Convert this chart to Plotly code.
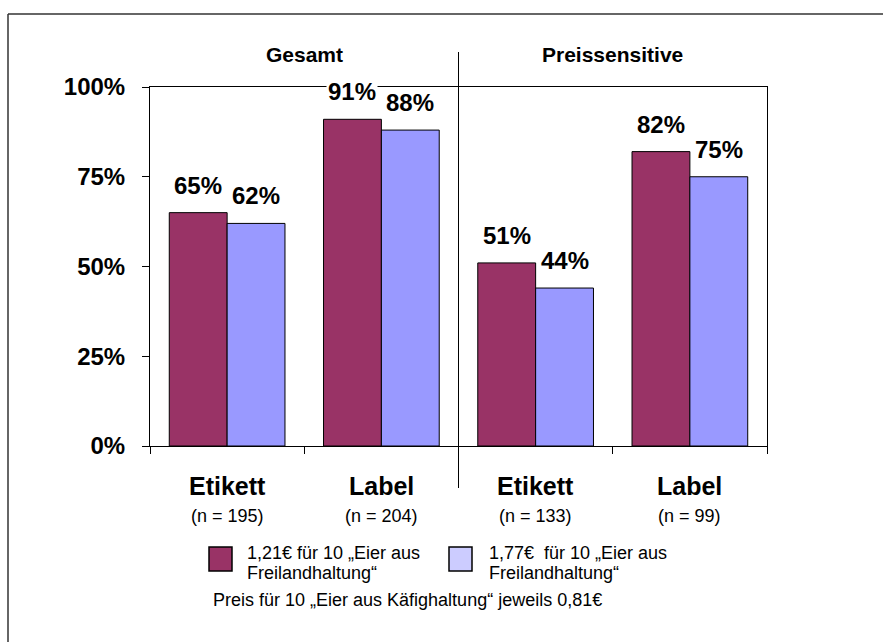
import plotly.graph_objects as go

# ---- data -------------------------------------------------------------
groups = ["Gesamt", "Preissensitive"]
categories = ["Etikett", "Label", "Etikett", "Label"]
sample_sizes = ["(n = 195)", "(n = 204)", "(n = 133)", "(n = 99)"]
price_121 = [0.65, 0.91, 0.51, 0.82]
price_177 = [0.62, 0.88, 0.44, 0.75]
series_names = [
    ["1,21€ für 10 „Eier aus", "Freilandhaltung“"],
    ["1,77€\u00a0 für 10 „Eier aus", "Freilandhaltung“"],
]
footnote = "Preis für 10 „Eier aus Käfighaltung“ jeweils 0,81€"
y_ticks = [0, 0.25, 0.5, 0.75, 1.0]
y_tick_labels = ["0%", "25%", "50%", "75%", "100%"]

# ---- styling ------------------------------------------------------------
W, H = 883, 642
ML, MR, MT, MB = 150, 116, 87, 196
PW, PH = W - ML - MR, H - MT - MB
FONT = "Arial, Liberation Sans, sans-serif"
MAROON, BLUE, BLUE_SWATCH = "#993366", "#9999FF", "#CCCCFF"
BARGAP = 0.25


def px(xp):
    """pixel column -> paper x"""
    return (xp - ML) / PW


def py(yp):
    """pixel row -> paper y"""
    return (MT + PH - yp) / PH


x = list(range(len(categories)))

fig = go.Figure()
for vals, color in ((price_121, MAROON), (price_177, BLUE)):
    fig.add_trace(go.Bar(
        x=x, y=vals,
        marker=dict(color=color, line=dict(color="black", width=1)),
        showlegend=False, hoverinfo="skip",
    ))

annotations = []
shapes = []

# value labels above each bar
half = (1 - BARGAP) / 4
for vals, off in ((price_121, -half), (price_177, half)):
    for xi, v in zip(x, vals):
        annotations.append(dict(
            x=xi + off, y=v, xref="x", yref="y",
            text=f"{round(v * 100)}%", showarrow=False,
            yanchor="bottom", xanchor="center", yshift=12,
            bgcolor="white", borderpad=1,
            font=dict(family=FONT, size=24, color="black", weight="bold"),
        ))

# group headings
n_per_group = len(categories) // len(groups)
for gi, g in enumerate(groups):
    annotations.append(dict(
        x=gi * n_per_group + (n_per_group - 1) / 2, y=1, xref="x", yref="paper",
        text=g, showarrow=False, yanchor="bottom", yshift=19,
        font=dict(family=FONT, size=21, color="black", weight="bold"),
    ))

# category labels with sample sizes
for xi, (c, n) in enumerate(zip(categories, sample_sizes)):
    annotations.append(dict(
        x=xi, y=0, xref="x", yref="paper", text=c, showarrow=False,
        yanchor="top", yshift=-24,
        font=dict(family=FONT, size=25, color="black", weight="bold"),
    ))
    annotations.append(dict(
        x=xi, y=0, xref="x", yref="paper", text=n, showarrow=False,
        yanchor="top", yshift=-58,
        font=dict(family=FONT, size=18, color="black"),
    ))

# divider between the two groups
divider_x = (len(categories) - 1) / 2
shapes.append(dict(
    type="line", xref="x", yref="paper", x0=divider_x, x1=divider_x,
    y0=py(488), y1=py(52), line=dict(color="black", width=1),
))

# legend: swatches and two-line labels
legend_left = [209, 449]
text_left = [245, 487]
for sx, tx, color, lines in zip(legend_left, text_left,
                                [MAROON, BLUE_SWATCH], series_names):
    shapes.append(dict(
        type="rect", xref="paper", yref="paper",
        x0=px(sx), x1=px(sx + 23), y0=py(571), y1=py(547),
        fillcolor=color, line=dict(color="black", width=1.5),
    ))
    for li, line_text in enumerate(lines):
        annotations.append(dict(
            x=px(tx), y=py(541 + li * 20), xref="paper", yref="paper",
            text=line_text, showarrow=False, xanchor="left", yanchor="top",
            font=dict(family=FONT, size=18, color="black"),
        ))

annotations.append(dict(
    x=px(211), y=py(588), xref="paper", yref="paper", text=footnote,
    showarrow=False, xanchor="left", yanchor="top",
    font=dict(family=FONT, size=18, color="black"),
))

# outer frame (left and top edges)
frame = dict(color="#333333", width=1.5)
shapes.append(dict(type="line", xref="paper", yref="paper",
                   x0=px(8), x1=px(8), y0=py(H), y1=py(14), line=frame))
shapes.append(dict(type="line", xref="paper", yref="paper",
                   x0=px(8), x1=px(W), y0=py(14), y1=py(14), line=frame))

fig.update_layout(
    width=W, height=H,
    margin=dict(l=ML, r=MR, t=MT, b=MB, pad=0),
    paper_bgcolor="white", plot_bgcolor="white",
    barmode="group", bargap=BARGAP, bargroupgap=0,
    font=dict(family=FONT, color="black"),
    annotations=annotations, shapes=shapes,
    xaxis=dict(
        range=[-0.5, len(categories) - 0.5],
        tickvals=[i - 0.5 for i in range(len(categories) + 1)],
        ticktext=[""] * (len(categories) + 1),
        ticks="outside", ticklen=7, tickcolor="black", tickwidth=1,
        showline=True, linecolor="black", linewidth=1, mirror=True,
        showgrid=False, zeroline=False, fixedrange=True,
    ),
    yaxis=dict(
        range=[0, 1], tickvals=y_ticks, ticktext=y_tick_labels,
        ticks="outside", ticklen=7, tickcolor="black", tickwidth=1,
        ticklabelstandoff=12,
        tickfont=dict(family=FONT, size=24, color="black", weight="bold"),
        showline=True, linecolor="black", linewidth=1, mirror=True,
        showgrid=False, zeroline=False, fixedrange=True,
    ),
)

fig.write_html("out.html", config={"displayModeBar": False})
